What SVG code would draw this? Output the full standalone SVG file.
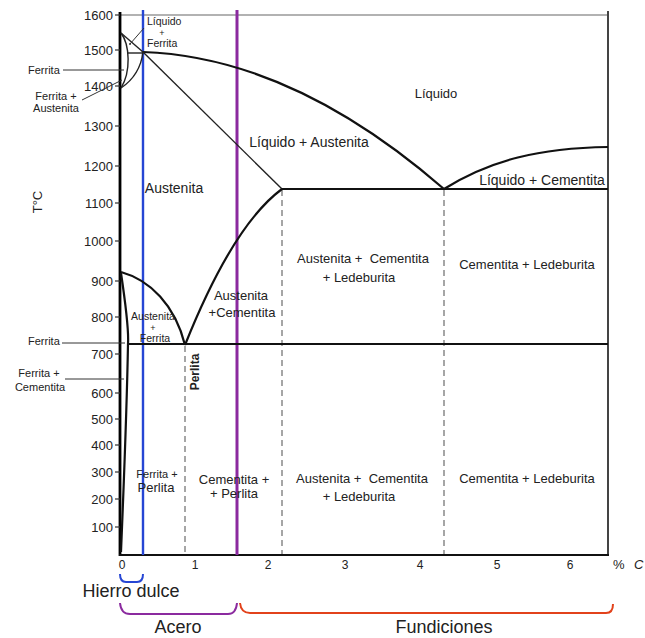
<svg xmlns="http://www.w3.org/2000/svg" width="645" height="638" viewBox="0 0 645 638">
<style>
text{font-family:"Liberation Sans",Arial,sans-serif;fill:#222}
.tk{font-size:13px;text-anchor:end}
.xl{font-size:12px;text-anchor:middle}
.s{font-size:11px}
.xs{font-size:10.5px}
.pl{font-size:9px;text-anchor:middle}
.m{font-size:13px}
.b{font-size:14px}
.big{font-size:18px}
.ph{fill:none;stroke:#111;stroke-width:2.2}
.thin{fill:none;stroke:#222;stroke-width:1.4}
.dash{fill:none;stroke:#777;stroke-width:1.3;stroke-dasharray:6 4}
.lead{fill:none;stroke:#333;stroke-width:1}
.tick{stroke:#333;stroke-width:1.2}
</style>
<rect width="645" height="638" fill="#fff"/>
<g id="axes">
<line x1="120" y1="15" x2="609" y2="15" stroke="#999" stroke-width="1.4"/>
<line x1="608" y1="11" x2="608" y2="556" stroke="#444" stroke-width="2"/>
<line x1="120" y1="12" x2="120" y2="556" stroke="#000" stroke-width="2.8"/>
<line x1="119" y1="555" x2="609" y2="555" stroke="#111" stroke-width="2.2"/>
<g class="tick">
<line x1="115" y1="15" x2="120" y2="15"/><line x1="115" y1="50" x2="120" y2="50"/>
<line x1="115" y1="86" x2="120" y2="86"/><line x1="115" y1="126" x2="120" y2="126"/>
<line x1="115" y1="166" x2="120" y2="166"/><line x1="115" y1="203" x2="120" y2="203"/>
<line x1="115" y1="241" x2="120" y2="241"/><line x1="115" y1="281" x2="120" y2="281"/>
<line x1="115" y1="317" x2="120" y2="317"/><line x1="115" y1="354" x2="120" y2="354"/>
<line x1="115" y1="393" x2="120" y2="393"/><line x1="115" y1="419" x2="120" y2="419"/>
<line x1="115" y1="445" x2="120" y2="445"/><line x1="115" y1="472" x2="120" y2="472"/>
<line x1="115" y1="499" x2="120" y2="499"/><line x1="115" y1="527" x2="120" y2="527"/>
</g>
<text class="tk" x="113" y="20">1600</text>
<text class="tk" x="113" y="55">1500</text>
<text class="tk" x="113" y="91">1400</text>
<text class="tk" x="113" y="131">1300</text>
<text class="tk" x="113" y="171">1200</text>
<text class="tk" x="113" y="208">1100</text>
<text class="tk" x="113" y="246">1000</text>
<text class="tk" x="113" y="286">900</text>
<text class="tk" x="113" y="322">800</text>
<text class="tk" x="113" y="359">700</text>
<text class="tk" x="113" y="398">600</text>
<text class="tk" x="113" y="424">500</text>
<text class="tk" x="113" y="450">400</text>
<text class="tk" x="113" y="477">300</text>
<text class="tk" x="113" y="504">200</text>
<text class="tk" x="113" y="532">100</text>
<text class="xl" x="122" y="569">0</text>
<text class="xl" x="195" y="569">1</text>
<text class="xl" x="268" y="569">2</text>
<text class="xl" x="345" y="569">3</text>
<text class="xl" x="420" y="569">4</text>
<text class="xl" x="497" y="569">5</text>
<text class="xl" x="570" y="569">6</text>
<text x="613" y="569" font-size="13">%</text>
<text x="634" y="569" font-size="13" font-style="italic">C</text>
<text class="m" transform="translate(42,202) rotate(-90)" text-anchor="middle">T°C</text>
</g>
<g id="connectors">
<line x1="143" y1="10" x2="143" y2="555" stroke="#2646d4" stroke-width="2.4"/>
<line x1="237" y1="10" x2="237" y2="555" stroke="#8b2a9f" stroke-width="3"/>
<path class="dash" d="M185,346 V554 M282,190 V554 M444,190 V554"/>
<path class="ph" d="M143,52 C230,55 330,90 444,189"/>
<path class="thin" d="M143,52 L282,189"/>
<path class="ph" d="M282,189 H608"/>
<path class="ph" d="M444,189 C490,160 540,148 608,147"/>
<path class="ph" d="M185,345 C205,295 240,220 282,189"/>
<path class="ph" d="M128,344 H608"/>
<path class="ph" d="M121,272 C150,280 175,305 185,345"/>
<path class="ph" stroke-width="2.8" d="M121,273 C125,300 129,330 128,344 C127,400 124,480 121,552"/>
<path class="thin" d="M121,33 L143,52"/>
<path class="thin" d="M128,53 L143,53"/>
<path class="thin" d="M143,52 C141,68 133,80 121,88"/>
<path class="thin" d="M121,33 C130,45 131,72 121,88"/>
<path class="lead" d="M144,28 L130,44"/>
<circle cx="130" cy="44" r="1" fill="#333"/>
<path class="lead" d="M63,70 H124"/>
<path class="lead" d="M82,100 L122,80"/>
<path class="lead" d="M62,343 H125"/>
<path class="lead" d="M65,379 H124"/>
</g>
<g id="labels">
<text class="xs" x="147" y="25">Líquido</text>
<text class="pl" x="162" y="35.5">+</text>
<text class="xs" x="147" y="47">Ferrita</text>
<text class="s" x="28" y="74">Ferrita</text>
<text class="s" x="56" y="100" text-anchor="middle">Ferrita +</text>
<text class="s" x="56" y="112" text-anchor="middle">Austenita</text>
<text class="m" x="436" y="98" text-anchor="middle">Líquido</text>
<text class="b" x="309" y="147" text-anchor="middle">Líquido + Austenita</text>
<text class="b" x="174" y="193" text-anchor="middle">Austenita</text>
<text class="b" x="542" y="185" text-anchor="middle">Líquido + Cementita</text>
<text class="m" x="363" y="263" text-anchor="middle">Austenita +&#160; Cementita</text>
<text class="m" x="359" y="282" text-anchor="middle">+ Ledeburita</text>
<text class="m" x="527" y="269" text-anchor="middle">Cementita + Ledeburita</text>
<text class="m" x="241" y="300" text-anchor="middle">Austenita</text>
<text class="m" x="242" y="317" text-anchor="middle">+Cementita</text>
<text class="xs" x="153" y="320" text-anchor="middle">Austenita</text>
<text class="pl" x="153" y="330.5">+</text>
<text class="xs" x="155" y="342" text-anchor="middle">Ferrita</text>
<text transform="translate(199,372) rotate(-90)" text-anchor="middle" font-weight="bold" font-size="12">Perlita</text>
<text class="s" x="28" y="345">Ferrita</text>
<text class="s" x="39" y="377" text-anchor="middle">Ferrita +</text>
<text class="s" x="40" y="391" text-anchor="middle">Cementita</text>
<text class="s" x="157" y="478" text-anchor="middle">Ferrita +</text>
<text class="m" x="156" y="492" text-anchor="middle">Perlita</text>
<text class="m" x="234" y="484" text-anchor="middle">Cementita +</text>
<text class="m" x="234" y="498" text-anchor="middle">+ Perlita</text>
<text class="m" x="362" y="483" text-anchor="middle">Austenita +&#160; Cementita</text>
<text class="m" x="359" y="501" text-anchor="middle">+ Ledeburita</text>
<text class="m" x="527" y="483" text-anchor="middle">Cementita + Ledeburita</text>
</g>
<g id="hierro-dulce">
<path d="M120,574 Q120,582 126,582 L137,582 Q143,582 143,574" fill="none" stroke="#2646d4" stroke-width="2"/>
<text class="big" x="131" y="597" text-anchor="middle">Hierro dulce</text>
</g>
<g id="acero">
<path d="M120,603 Q121,614 130,614 L228,614 Q236,614 237,603" fill="none" stroke="#8b2a9f" stroke-width="2"/>
<text class="big" x="178" y="633" text-anchor="middle">Acero</text>
</g>
<g id="fundiciones">
<path d="M240,603 Q241,613 250,613 L606,613 Q613,613 613,604" fill="none" stroke="#e2421b" stroke-width="2"/>
<text class="big" x="444" y="633" text-anchor="middle">Fundiciones</text>
</g>
</svg>
